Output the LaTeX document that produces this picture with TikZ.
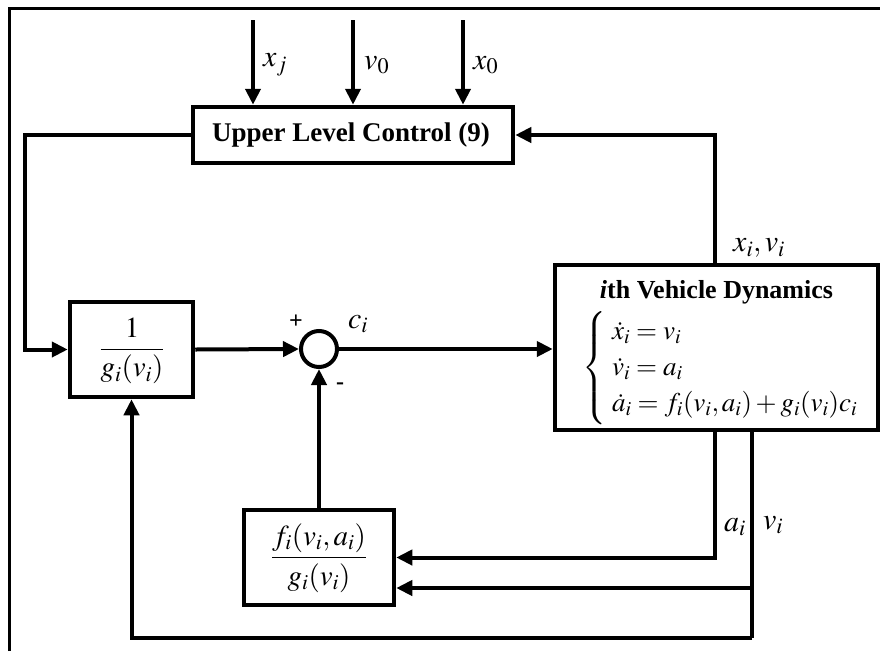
\documentclass[tikz,border=0pt]{standalone}
\usepackage{mathptmx}
\usepackage[no-math]{fontspec}
\setmainfont{Liberation Serif}
\usepackage{graphicx}
\usetikzlibrary{arrows.meta,calc}
\tikzset{
  blk/.style={draw, line width=4.5pt, rectangle, inner sep=0pt, fill=white},
  conn/.style={line width=4pt},
  arr/.style={conn, -{Triangle[length=16pt,width=15pt]}},
  lbl/.style={inner sep=0pt, font=\fontsize{30}{34}\selectfont},
  ttl/.style={inner sep=0pt, font=\fontsize{26}{30}\selectfont\bfseries},
  sgn/.style={inner sep=0pt, font=\fontsize{24}{28}\selectfont\bfseries},
  frc/.style={inner sep=0pt, font=\fontsize{29}{33}\selectfont},
}
\begin{document}
\begin{tikzpicture}[x=1pt,y=-1pt]
\useasboundingbox (0,0) rectangle (880,651);
% frame
\draw[line width=3pt] (9,651) -- (9,8) -- (880,8);
% blocks
\node[blk, minimum width=320pt, minimum height=56pt] (upper) at (353,135) {};
\node[ttl, font=\fontsize{27}{30}\selectfont\bfseries] (uppertxt) at (351,135) {Upper Level Control (9)};
\node[blk, minimum width=123pt, minimum height=95pt] (inv) at (131.5,349.5) {};
\node[frc] (invtxt) at (132,351) {$\displaystyle\frac{1}{g_i(v_i)}$};
\node[draw, circle, line width=4pt, minimum size=36pt, inner sep=0pt] (sum) at (319,349) {};
\node[blk, minimum width=323pt, minimum height=165pt] (veh) at (716.5,347.5) {};
\node[ttl] (vehtxt) at (716.5,292) {\textit{i}th Vehicle Dynamics};
\node[anchor=west, inner sep=0pt, font=\fontsize{27}{30}\selectfont] (eqs) at (582,368)
  {$\left\{\renewcommand{\arraystretch}{1.2}\begin{array}{@{\;}l@{}}
   \dot{x}_i = v_i\\
   \dot{v}_i = a_i\\
   \dot{a}_i = f_i(v_i,a_i)+g_i(v_i)c_i
   \end{array}\right.$};
\node[blk, minimum width=150pt, minimum height=95pt] (fg) at (319,557.5) {};
\node[frc] (fgtxt) at (319,558) {$\displaystyle\frac{f_i(v_i,a_i)}{g_i(v_i)}$};
% inputs
\coordinate (inxj) at (253,20);
\coordinate (invo) at (353,20);
\coordinate (inxo) at (463,20);
\draw[arr] (inxj) -- (inxj |- upper.north);
\draw[arr] (invo) -- (invo |- upper.north);
\draw[arr] (inxo) -- (inxo |- upper.north);
\node[lbl, anchor=west] (lxj) at (263,65) {$x_j$};
\node[lbl, anchor=west] (lvo) at (364,65) {$v_0$};
\node[lbl, anchor=west] (lxo) at (473,65) {$x_0$};
% feedback to upper
\coordinate (vtop) at (715,0);
\draw[arr] (vtop |- veh.north) |- (upper.east);
\node[lbl] (lxv) at (759,248) {$x_i, v_i$};
% upper to inv
\coordinate (lft) at (25,0);
\draw[arr] (upper.west) -| (lft |- inv.west) -- (inv.west);
% inv to sum
\draw[arr] (inv.east) -- (sum.west);
\draw[arr] (sum.east) -- (sum.east -| veh.west);
\node[lbl] (lci) at (358,324) {$c_i$};
\node[sgn] (plus) at (296,322) {+};
\node[sgn] (minus) at (340,386) {-};
% fg to sum
\draw[arr] (fg.north) -- (sum.south);
% a_i and v_i feedback
\coordinate (abot) at (715,0);
\coordinate (vbot) at (752,0);
\coordinate (vbr) at (752,588);
\coordinate (vlow) at (752,638);
\draw[arr] (abot |- veh.south) |- (fg.east);
\draw[conn] (vbot |- veh.south) -- (vlow);
\draw[arr] (vbr) -- (vbr -| fg.east);
\draw[arr] (vlow) -| (inv.south);
\node[lbl] (lai) at (735,527) {$a_i$};
\node[lbl] (lvi) at (773,525) {$v_i$};
\end{tikzpicture}
\end{document}
